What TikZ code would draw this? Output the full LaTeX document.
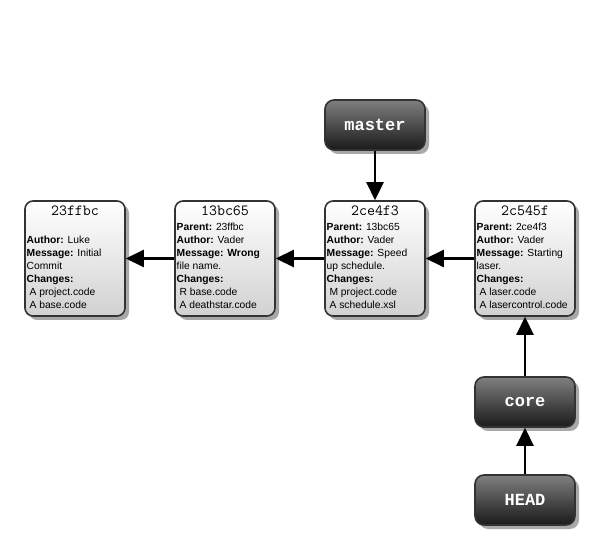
\documentclass[tikz,border=0pt]{standalone}
\usepackage{fontspec}
\setmainfont{Liberation Sans}
\newfontfamily\reffont{Liberation Mono}
\usetikzlibrary{arrows.meta,shadows,positioning}
\definecolor{edgegray}{HTML}{333333}
\definecolor{shadegray}{HTML}{A8A8A8}
\tikzset{
  commit/.style={draw=edgegray, line width=1.6pt, rounded corners=8pt,
    top color=white, bottom color=black!18,
    minimum width=100pt, minimum height=115pt,
    drop shadow={shadow xshift=4pt, shadow yshift=-4pt, fill=shadegray, opacity=1},
    inner sep=0pt},
  refbox/.style={draw=edgegray, line width=1.6pt, rounded corners=9pt,
    top color=black!50, bottom color=black!90,
    minimum width=100pt, minimum height=50pt,
    drop shadow={shadow xshift=4pt, shadow yshift=-4pt, fill=shadegray, opacity=1},
    font=\reffont\bfseries\fontsize{17}{17}\selectfont, text=white},
  link/.style={line width=2.6pt, -{Triangle[length=18pt,width=17pt]}},
  hash/.style={font=\ttfamily\fontsize{15.5}{15.5}\selectfont, anchor=north},
  body/.style={font=\fontsize{10.3}{12.9}\selectfont, anchor=north west, align=left, inner sep=0pt}
}
\begin{document}
\begin{tikzpicture}[x=1pt,y=-1pt]
\useasboundingbox[fill=white] (0,0) rectangle (595,545);

% commits
\node[commit] (c1) at (75,258.5) {};
\node[commit] (c2) at (225,258.5) {};
\node[commit] (c3) at (375,258.5) {};
\node[commit] (c4) at (525,258.5) {};

% commit contents
\node[hash] (h1) at (75,202) {23ffbc};
\node[body] (b1) at (26.5,236) {\textbf{Author:} Luke\\\textbf{Message:} Initial\\Commit\\\textbf{Changes:}\\\ A project.code\\\ A base.code};

\node[hash] (h2) at (225,202) {13bc65};
\node[body] (b2) at (176.5,223) {\textbf{Parent:} 23ffbc\\\textbf{Author:} Vader\\\textbf{Message: Wrong}\\file name.\\\textbf{Changes:}\\\ R base.code\\\ A deathstar.code};

\node[hash] (h3) at (375,202) {2ce4f3};
\node[body] (b3) at (326.5,223) {\textbf{Parent:} 13bc65\\\textbf{Author:} Vader\\\textbf{Message:} Speed\\up schedule.\\\textbf{Changes:}\\\ M project.code\\\ A schedule.xsl};

\node[hash] (h4) at (525,202) {2c545f};
\node[body] (b4) at (476.5,223) {\textbf{Parent:} 2ce4f3\\\textbf{Author:} Vader\\\textbf{Message:} Starting\\laser.\\\textbf{Changes:}\\\ A laser.code\\\ A lasercontrol.code};

% refs
\node[refbox] (master) at (375,125) {master};
\node[refbox] (core) at (525,402) {core};
\node[refbox] (head) at (525,500) {HEAD};

% links
\draw[link] (c2.west) -- (c1.east);
\draw[link] (c3.west) -- (c2.east);
\draw[link] (c4.west) -- (c3.east);
\draw[link] (master.south) -- (c3.north);
\draw[link] (core.north) -- (c4.south);
\draw[link] (head.north) -- (core.south);
\end{tikzpicture}
\end{document}
